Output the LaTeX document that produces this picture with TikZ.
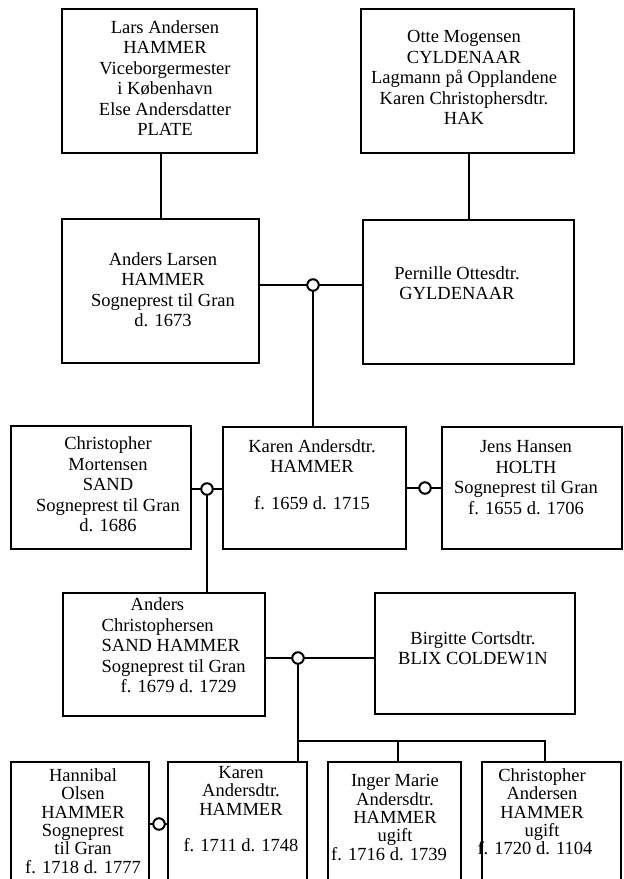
\documentclass[tikz,border=0pt]{standalone}
\usepackage{fontspec}
\setmainfont{Liberation Serif}
\begin{document}
\begin{tikzpicture}[x=1pt,y=-1pt,
  box/.style={draw, line width=2.5pt, rectangle, inner sep=0pt},
  txt/.style={align=center, inner sep=0pt, font=\fontsize{18.5}{20.5}\selectfont},
  txtb/.style={align=center, inner sep=0pt, font=\fontsize{18.5}{18.3}\selectfont},
  link/.style={line width=2.1pt},
  ring/.style={circle, draw, fill=white, line width=2pt, minimum size=11.5pt, inner sep=0pt}]
\clip (0,0) rectangle (624,879);
\fill[white] (0,0) rectangle (624,879);

% boxes (centre, size)
\node[box, minimum width=195pt, minimum height=144pt] (lars)    at (159.5,81) {};
\node[box, minimum width=213pt, minimum height=144pt] (otte)    at (467.5,81) {};
\node[box, minimum width=197pt, minimum height=144pt] (anders)  at (160.5,291) {};
\node[box, minimum width=211pt, minimum height=144pt] (pern)    at (468.5,292) {};
\node[box, minimum width=180pt, minimum height=123pt] (chris)   at (101,487.5) {};
\node[box, minimum width=183pt, minimum height=122pt] (karen)   at (314.5,488) {};
\node[box, minimum width=180pt, minimum height=122pt] (jens)    at (532,488) {};
\node[box, minimum width=202pt, minimum height=123pt] (andersc) at (164,654.5) {};
\node[box, minimum width=200pt, minimum height=121pt] (birg)    at (475,653.5) {};
\node[box, minimum width=138pt, minimum height=160pt] (hann)    at (80,842) {};
\node[box, minimum width=139pt, minimum height=160pt] (karen2)  at (237.5,842) {};
\node[box, minimum width=133pt, minimum height=160pt] (inger)   at (394.5,842) {};
\node[box, minimum width=139pt, minimum height=160pt] (chris2)  at (551.5,842) {};

% texts
\node[txt] (lars-t) at (165,78) {Lars Andersen\\HAMMER\\Viceborgermester\\i København\\Else Andersdatter\\PLATE};
\node[txt] (otte-t) at (464,77.5) {Otte Mogensen\\CYLDENAAR\\Lagmann på Opplandene\\Karen Christophersdtr.\\HAK};
\node[txt] (anders-t) at (163,289.5) {Anders Larsen\\HAMMER\\Sogneprest til Gran\\d. 1673};
\node[txt] (pern-t) at (457,283) {Pernille Ottesdtr.\\GYLDENAAR};
\node[txt] (chris-t) at (108,484.5) {Christopher\\Mortensen\\SAND\\Sogneprest til Gran\\d. 1686};
\node[txt] (karen-t) at (312,474.5) {Karen Andersdtr.\\HAMMER\\[16pt]f. 1659 d. 1715};
\node[txt] (jens-t) at (526,477.5) {Jens Hansen\\HOLTH\\Sogneprest til Gran\\f. 1655 d. 1706};
\node[txt, align=left, anchor=west] (andersc-t) at (101.5,645.5) {\hspace*{29pt}Anders\\Christophersen\\SAND HAMMER\\Sogneprest til Gran\\\hspace*{19pt}f. 1679 d. 1729};
\node[txt] (birg-t) at (473,648) {Birgitte Cortsdtr.\\BLIX COLDEW1N};
\node[txtb] (hann-t) at (83,821) {Hannibal\\Olsen\\HAMMER\\Sogneprest\\til Gran\\f. 1718 d. 1777};
\node[txtb] (karen2-t) at (241,809) {Karen\\Andersdtr.\\HAMMER\\[18pt]f. 1711 d. 1748};
\node[txtb] (inger-t) at (395,817.5) {Inger Marie\\Andersdtr.\\HAMMER\\ugift\\\hspace*{-12pt}f. 1716 d. 1739};
\node[txtb] (chris2-t) at (542,812) {Christopher\\Andersen\\HAMMER\\ugift\\\hspace*{-14pt}f. 1720 d. 1104};

% marriage points and bar
\coordinate (m1) at (313,285);
\coordinate (m2) at (207,489);
\coordinate (m3) at (425,488);
\coordinate (m4) at (298,658);
\coordinate (m5) at (159,824);
\coordinate (bar) at (298,741);
\coordinate (barR) at (545,741);

% connectors
\draw[link] (lars.south -| 161,0) -- (anders.north -| 161,0);
\draw[link] (otte.south -| 469,0) -- (pern.north -| 469,0);
\draw[link] (anders.east |- m1) -- (pern.west |- m1);
\draw[link] (m1) -- (m1 |- karen.north);
\draw[link] (chris.east |- m2) -- (karen.west |- m2);
\draw[link] (m2) -- (m2 |- andersc.north);
\draw[link] (karen.east |- m3) -- (jens.west |- m3);
\draw[link] (andersc.east |- m4) -- (birg.west |- m4);
\draw[link] (m4) -- (bar) -- (bar |- karen2.north);
\draw[link] (bar) -- (barR) -- (barR |- chris2.north);
\draw[link] (398,741) -- (inger.north -| 398,0);
\draw[link] (hann.east |- m5) -- (karen2.west |- m5);

% rings
\node[ring] (r1) at (m1) {};
\node[ring] (r2) at (m2) {};
\node[ring] (r3) at (m3) {};
\node[ring] (r4) at (m4) {};
\node[ring] (r5) at (m5) {};
\end{tikzpicture}
\end{document}
